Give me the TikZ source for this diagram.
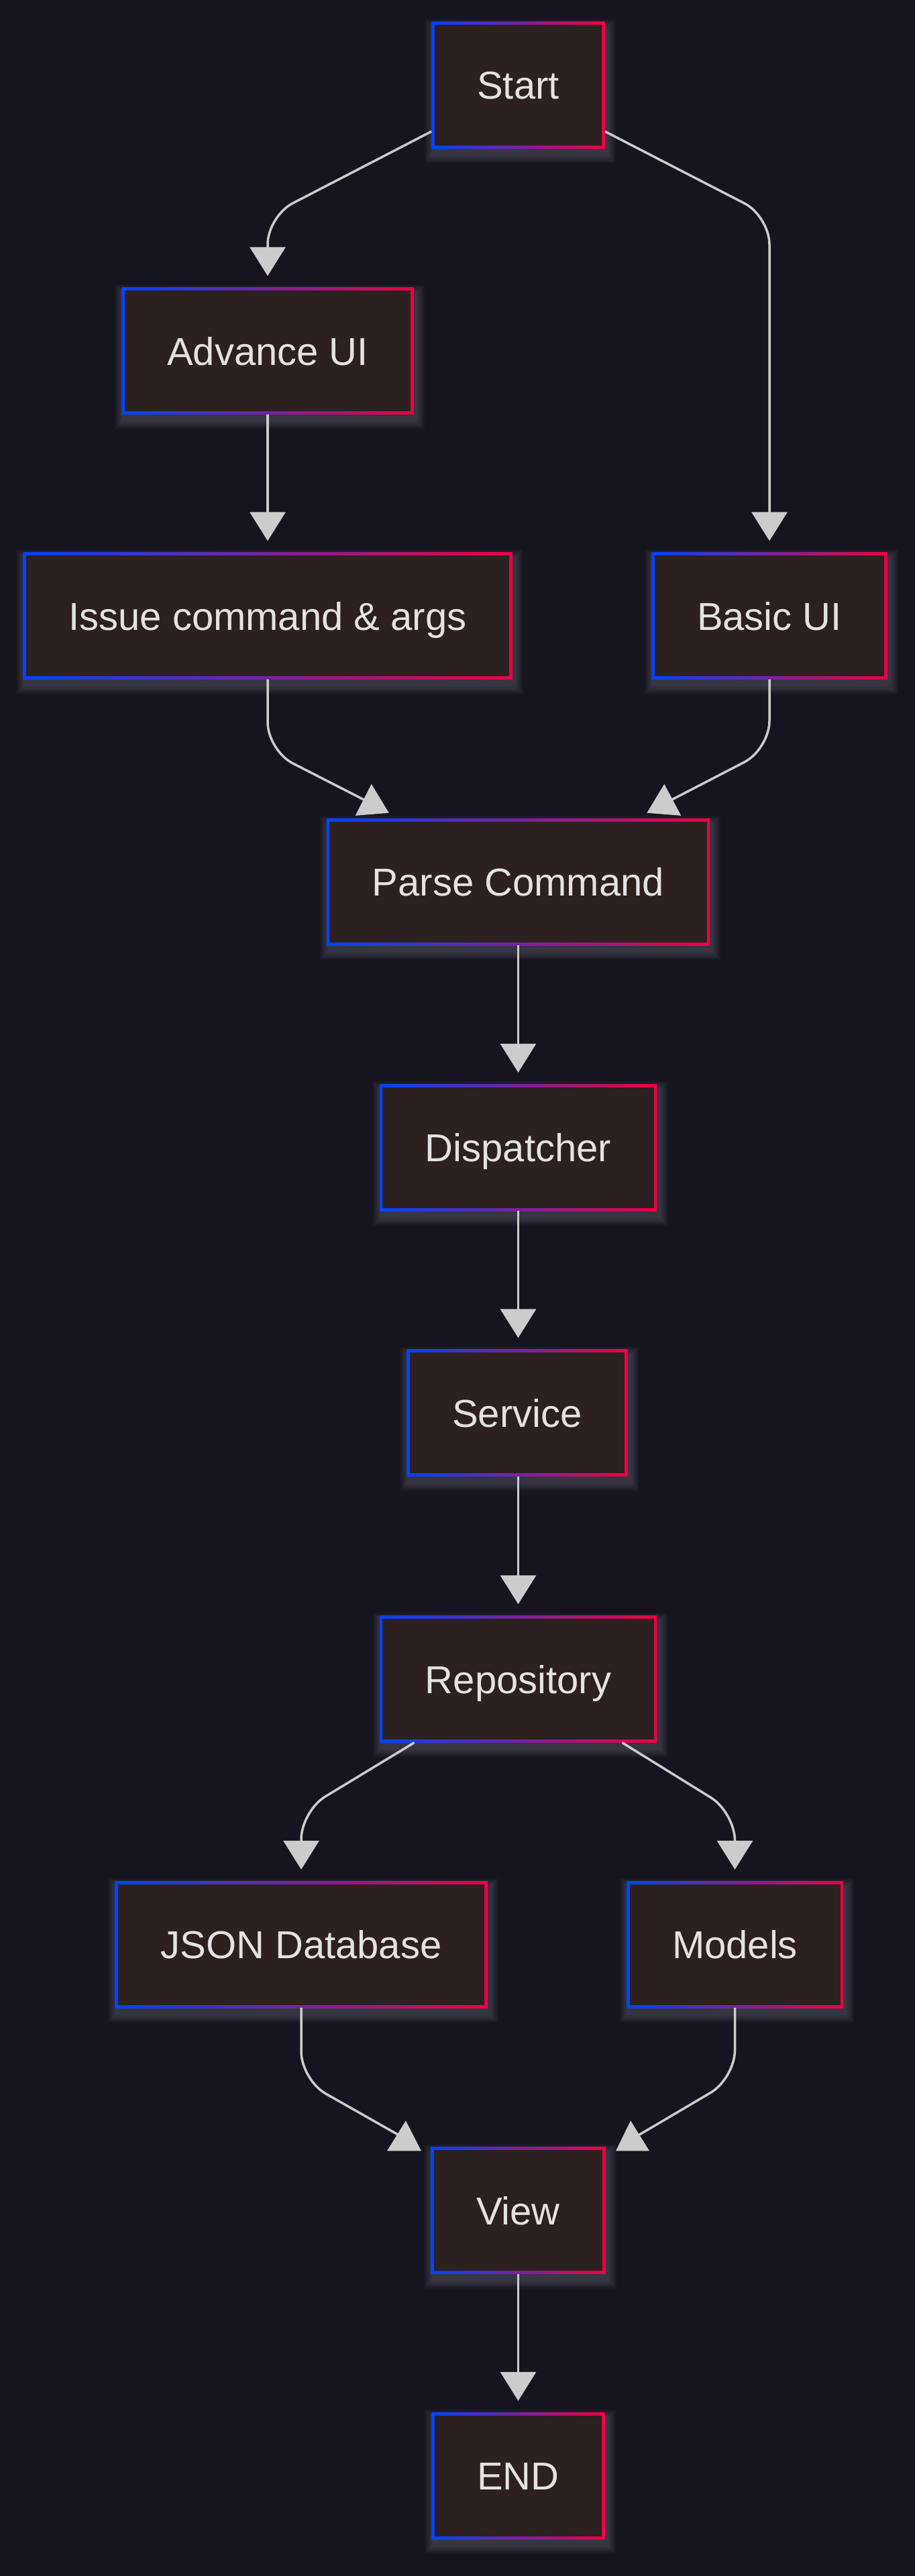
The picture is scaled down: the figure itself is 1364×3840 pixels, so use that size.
\documentclass[tikz,border=0pt]{standalone}
\usepackage{fontspec}
\setmainfont{Liberation Sans}
\usetikzlibrary{arrows.meta,calc}
\pgfdeclarelayer{background}
\pgfsetlayers{background,main}
\definecolor{bgc}{HTML}{16151F}
\definecolor{fillc}{HTML}{2C2020}
\definecolor{bl}{HTML}{0044FF}
\definecolor{rd}{HTML}{F00040}
\definecolor{txtc}{HTML}{E3E3E3}
\definecolor{edgec}{HTML}{CCCCCC}
\definecolor{glowc}{HTML}{8C8CA0}
\newcommand\nodefont{\fontsize{58pt}{70pt}\selectfont}
\newcommand\glownode[1]{%
  \begin{pgfonlayer}{background}
  \foreach \k in {1,...,8}{%
    \fill[glowc, fill opacity=0.045]
      ([shift={(-\k*1.6pt+3pt,-\k*1.6pt-9pt)}]#1.south west) rectangle
      ([shift={(\k*1.6pt+3pt,\k*1.6pt-9pt)}]#1.north east);}
  \end{pgfonlayer}}
\tikzset{
  box/.style={font=\nodefont, text=txtc, fill=fillc,
    minimum height=189pt, inner xsep=68pt, inner ysep=0pt,
    text height=42pt, text depth=0pt,
    path picture={
      \shade[left color=bl, right color=rd]
        (path picture bounding box.south west) rectangle (path picture bounding box.north east);
      \fill[fillc]
        ([shift={(4.5pt,4.5pt)}]path picture bounding box.south west) rectangle
        ([shift={(-4.5pt,-4.5pt)}]path picture bounding box.north east);
    }},
  edge/.style={draw=edgec, line width=3.5pt, rounded corners=42pt},
  arr/.style={-{Triangle[length=43pt,width=53pt]}},
  tipfill/.style={fill=edgec}
}
\begin{document}
\begin{tikzpicture}[x=1pt,y=-1pt]
\useasboundingbox (0,0) rectangle (1364,3840);
\begin{pgfonlayer}{background}
\fill[bgc] (0,0) rectangle (1364,3840);
\end{pgfonlayer}

\node[box] (Start)  at (772.5,127)   {Start};
\node[box] (Adv)    at (399,523)     {Advance UI};
\node[box] (Iss)    at (399,918)     {Issue command \& args};
\node[box] (Basic)  at (1147,918)    {Basic UI};
\node[box] (Parse)  at (772.5,1314.5) {Parse Command};
\node[box] (Disp)   at (772.5,1710.5) {Dispatcher};
\node[box] (Serv)   at (771,2106)    {Service};
\node[box] (Repo)   at (772.5,2503)  {Repository};
\node[box] (Json)   at (449,2898.5)  {JSON Database};
\node[box] (Models) at (1095.5,2898.5) {Models};
\node[box] (View)   at (772.5,3295)  {View};
\node[box] (End)    at (772.5,3690.5) {END};

\foreach \n in {Start,Adv,Iss,Basic,Parse,Disp,Serv,Repo,Json,Models,View,End}{\glownode{\n}}

% Start -> Advance UI
\draw[edge,arr] ([yshift=-69pt]Start.west) -- ([yshift=106pt]Adv.north) -- ([yshift=17pt]Adv.north);
% Start -> Basic UI
\draw[edge,arr] ([yshift=-69pt]Start.east) -- ([yshift=501pt]Basic.north) -- ([yshift=17pt]Basic.north);
% Advance UI -> Issue
\draw[edge,arr] (Adv.south) -- ([yshift=17pt]Iss.north);
% Issue -> Parse
\draw[edge] (Iss.south) -- ([yshift=-106pt]Iss.south) -- ([shift={(61pt,25pt)}]Parse.north west);
\fill[tipfill] ([shift={(67pt,51pt)}]Parse.north west) -- ([shift={(43pt,4pt)}]Parse.north west) -- ([shift={(93pt,8pt)}]Parse.north west) -- cycle;
% Basic -> Parse
\draw[edge] (Basic.south) -- ([yshift=-104pt]Basic.south) -- ([shift={(-62pt,25pt)}]Parse.north east);
\fill[tipfill] ([shift={(-68pt,51pt)}]Parse.north east) -- ([shift={(-94pt,8pt)}]Parse.north east) -- ([shift={(-43pt,4pt)}]Parse.north east) -- cycle;
% vertical chain
\draw[edge,arr] (Parse.south) -- ([yshift=17pt]Disp.north);
\draw[edge,arr] (Disp.south) -- ([yshift=17pt]Serv.north -| Disp.south);
\draw[edge,arr] (Serv.south -| Repo.north) -- ([yshift=17pt]Repo.north);
% Repository -> JSON / Models
\draw[edge,arr] ([xshift=-155pt]Repo.south) -- ([yshift=104pt]Json.north) -- ([yshift=17pt]Json.north);
\draw[edge,arr] ([xshift=155pt]Repo.south) -- ([yshift=102pt]Models.north) -- ([yshift=17pt]Models.north);
% JSON -> View
\draw[edge] (Json.south) -- ([yshift=-107pt]Json.south) -- ([shift={(-43pt,15pt)}]View.north west);
\fill[tipfill] ([shift={(-37pt,39pt)}]View.north west) -- ([shift={(-65pt,-6pt)}]View.north west) -- ([shift={(-14pt,-6pt)}]View.north west) -- cycle;
% Models -> View
\draw[edge] (Models.south) -- ([yshift=-105pt]Models.south) -- ([shift={(43pt,14pt)}]View.north east);
\fill[tipfill] ([shift={(37pt,39pt)}]View.north east) -- ([shift={(15pt,-6pt)}]View.north east) -- ([shift={(65pt,-6pt)}]View.north east) -- cycle;
% View -> END
\draw[edge,arr] (View.south) -- ([yshift=17pt]End.north);
\end{tikzpicture}
\end{document}
